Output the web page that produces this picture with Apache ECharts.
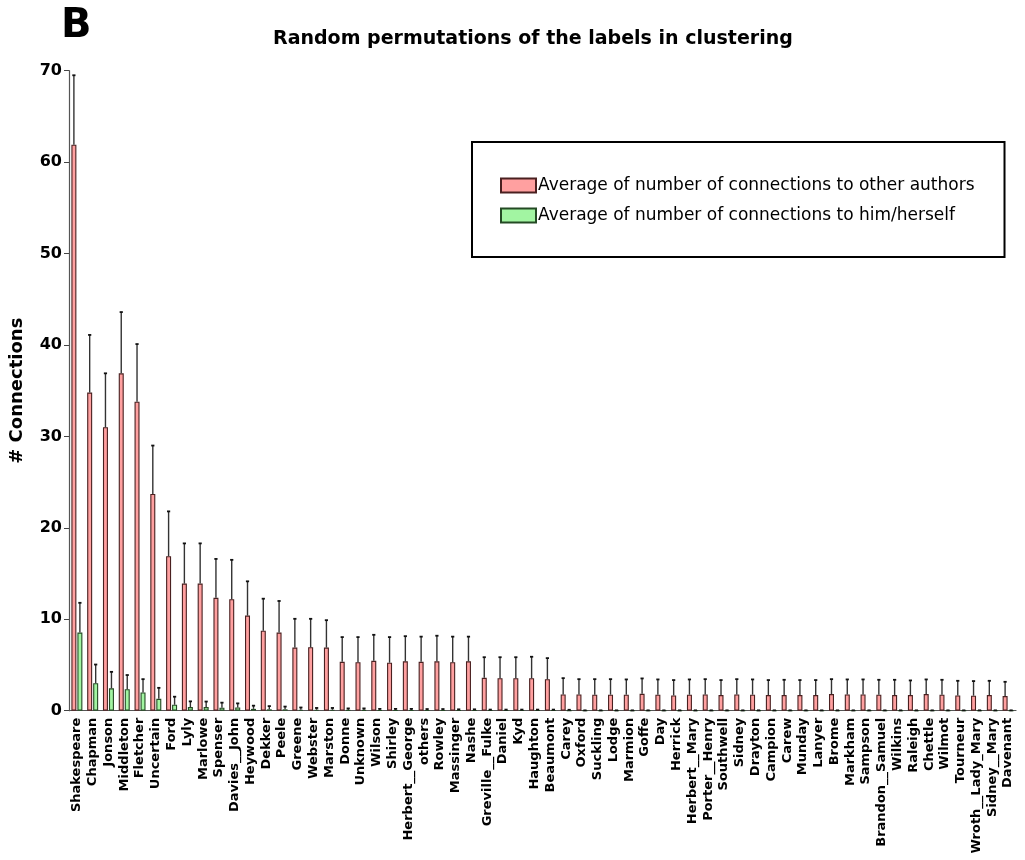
<!DOCTYPE html>
<html>
<head>
<meta charset="utf-8">
<script src="https://cdn.jsdelivr.net/npm/echarts@6/dist/echarts.min.js"></script>
<style>
  html, body { margin: 0; padding: 0; background: #fff; }
  #chart { width: 1025px; height: 860px; }
</style>
</head>
<body>
<div id="chart"></div>
<script>
// Authors, in the order plotted
const authors = [
  'Shakespeare','Chapman','Jonson','Middleton','Fletcher','Uncertain','Ford','Lyly','Marlowe','Spenser',
  'Davies__John','Heywood','Dekker','Peele','Greene','Webster','Marston','Donne','Unknown','Wilson',
  'Shirley','Herbert__George','others','Rowley','Massinger','Nashe','Greville__Fulke','Daniel','Kyd','Haughton',
  'Beaumont','Carey','Oxford','Suckling','Lodge','Marmion','Goffe','Day','Herrick','Herbert__Mary',
  'Porter__Henry','Southwell','Sidney','Drayton','Campion','Carew','Munday','Lanyer','Brome','Markham',
  'Sampson','Brandon__Samuel','Wilkins','Raleigh','Chettle','Wilmot','Tourneur','Wroth__Lady_Mary','Sidney__Mary','Davenant'
];

// Average number of connections to other authors, and its standard deviation
const otherMean = [
  61.9, 34.8, 31.0, 36.9, 33.8, 23.7, 16.9, 13.9, 13.9, 12.35,
  12.2, 10.4, 8.75, 8.55, 6.9, 6.95, 6.9, 5.35, 5.3, 5.45,
  5.25, 5.4, 5.35, 5.4, 5.3, 5.4, 3.6, 3.55, 3.55, 3.55,
  3.45, 1.78, 1.78, 1.75, 1.75, 1.75, 1.85, 1.75, 1.67, 1.75,
  1.78, 1.71, 1.78, 1.75, 1.71, 1.71, 1.71, 1.71, 1.82, 1.78,
  1.78, 1.75, 1.71, 1.71, 1.82, 1.75, 1.67, 1.64, 1.71, 1.6
];
const otherSD = [
  7.6, 6.3, 5.9, 6.7, 6.3, 5.3, 4.9, 4.4, 4.4, 4.25,
  4.3, 3.75, 3.5, 3.45, 3.15, 3.1, 3.0, 2.7, 2.75, 2.85,
  2.8, 2.75, 2.75, 2.8, 2.8, 2.7, 2.25, 2.3, 2.3, 2.35,
  2.3, 1.78, 1.67, 1.70, 1.70, 1.67, 1.68, 1.67, 1.68, 1.67,
  1.67, 1.64, 1.67, 1.67, 1.64, 1.67, 1.64, 1.64, 1.63, 1.64,
  1.64, 1.63, 1.67, 1.60, 1.60, 1.63, 1.60, 1.60, 1.56, 1.56
];

// Average number of connections to him/herself, and its standard deviation
const selfMean = [
  8.55, 3.0, 2.45, 2.35, 2.0, 1.3, 0.65, 0.4, 0.4, 0.33,
  0.35, 0.2, 0.15, 0.15, 0.1, 0.1, 0.1, 0.08, 0.08, 0.06,
  0.06, 0.06, 0.05, 0.05, 0.04, 0.04, 0.03, 0.03, 0.03, 0.03,
  0.03, 0.02, 0.01, 0.01, 0.01, 0.01, 0.01, 0.01, 0.01, 0.01,
  0.01, 0.01, 0.01, 0.01, 0.01, 0.01, 0.01, 0.01, 0.01, 0.01,
  0.01, 0.01, 0.01, 0.01, 0.01, 0.01, 0.01, 0.01, 0.01, 0.01
];
const selfSD = [
  3.25, 2.05, 1.8, 1.55, 1.45, 1.2, 0.88, 0.62, 0.6, 0.55,
  0.45, 0.35, 0.35, 0.3, 0.25, 0.2, 0.2, 0.17, 0.17, 0.14,
  0.14, 0.14, 0.13, 0.13, 0.11, 0.11, 0.09, 0.09, 0.09, 0.09,
  0.09, 0.08, 0.03, 0.03, 0.03, 0.03, 0.03, 0.03, 0.03, 0.03,
  0.03, 0.03, 0.03, 0.03, 0.03, 0.03, 0.03, 0.03, 0.03, 0.03,
  0.03, 0.03, 0.03, 0.03, 0.03, 0.03, 0.03, 0.03, 0.03, 0.03
];

const yTicks = { min: 0, max: 70, interval: 10 };

const nameOther = 'Average of number of connections to other authors';
const nameSelf = 'Average of number of connections to him/herself';

const FONT = '"DejaVu Sans", Verdana, sans-serif';
const BAR_W = 5;
const BAR_GAP = '20%';
const HALF_SHIFT = 3; // distance from category centre to each bar centre

// Upper whisker with a small cap, drawn from the bar top upward
function whisker(shift) {
  return function (params, api) {
    const idx = api.value(0);
    const mean = api.value(1);
    const sd = api.value(2);
    const base = api.coord([idx, mean]);
    const top = api.coord([idx, mean + sd]);
    const x = base[0] + shift;
    return {
      type: 'group',
      children: [
        { type: 'line', shape: { x1: x, y1: base[1], x2: x, y2: top[1] },
          style: { stroke: '#333', lineWidth: 1.4 } },
        { type: 'line', shape: { x1: x - 1.6, y1: top[1], x2: x + 1.6, y2: top[1] },
          style: { stroke: '#111', lineWidth: 1.8 } }
      ]
    };
  };
}

const chart = echarts.init(document.getElementById('chart'), null, { renderer: 'canvas' });

chart.setOption({
  backgroundColor: '#ffffff',
  animation: false,
  textStyle: { fontFamily: FONT },
  title: [
    { text: 'B', left: 56, top: 2,
      textStyle: { fontFamily: FONT, fontSize: 40, fontWeight: 'bold', color: '#000' } },
    { text: 'Random permutations of the labels in clustering', left: 268, top: 25,
      textStyle: { fontFamily: FONT, fontSize: 19, fontWeight: 'bold', color: '#000' } }
  ],
  legend: {
    data: [nameOther, nameSelf],
    orient: 'vertical',
    left: 472,
    top: 142,
    padding: [35, 30, 33, 28],
    icon: 'rect',
    itemWidth: 35,
    itemHeight: 14,
    itemGap: 13,
    borderColor: '#000',
    borderWidth: 2,
    textStyle: { fontFamily: FONT, fontSize: 17, color: '#000', padding: [0, 0, 0, -3] }
  },
  grid: { left: 66, right: 9, top: 70.7, bottom: 149.3, containLabel: false },
  xAxis: {
    type: 'category',
    data: authors,
    boundaryGap: true,
    axisLine: { lineStyle: { color: '#555', width: 1.2 } },
    axisTick: { alignWithLabel: true, length: 5, lineStyle: { color: '#444' } },
    axisLabel: {
      interval: 0, rotate: 90, margin: 7,
      fontFamily: FONT, fontSize: 13, fontWeight: 'bold', color: '#000'
    },
    splitLine: { show: false }
  },
  yAxis: {
    type: 'value',
    min: yTicks.min, max: yTicks.max, interval: yTicks.interval,
    name: '# Connections',
    nameLocation: 'middle',
    nameRotate: 90,
    nameGap: 43,
    nameTextStyle: { fontFamily: FONT, fontSize: 18, fontWeight: 'bold', color: '#000' },
    axisLine: { show: true, lineStyle: { color: '#555', width: 1.2 } },
    axisTick: { show: true, length: 5, lineStyle: { color: '#444' } },
    axisLabel: { margin: 7, fontFamily: FONT, fontSize: 16, fontWeight: 'bold', color: '#000' },
    splitLine: { show: false }
  },
  series: [
    {
      name: nameOther, type: 'bar', data: otherMean,
      barWidth: BAR_W, barGap: BAR_GAP,
      itemStyle: { color: '#ffa0a0', borderColor: '#4a2020', borderWidth: 1.1 }
    },
    {
      name: nameSelf, type: 'bar', data: selfMean,
      barWidth: BAR_W, barGap: BAR_GAP,
      itemStyle: { color: '#a2f5a2', borderColor: '#244a24', borderWidth: 1.1 }
    },
    {
      type: 'custom', name: 'sdOther', z: 5,
      renderItem: whisker(-HALF_SHIFT),
      data: authors.map((a, i) => [i, otherMean[i], otherSD[i]]),
      encode: { x: 0, y: [1, 2] }
    },
    {
      type: 'custom', name: 'sdSelf', z: 5,
      renderItem: whisker(HALF_SHIFT),
      data: authors.map((a, i) => [i, selfMean[i], selfSD[i]]),
      encode: { x: 0, y: [1, 2] }
    }
  ]
});
</script>
</body>
</html>
